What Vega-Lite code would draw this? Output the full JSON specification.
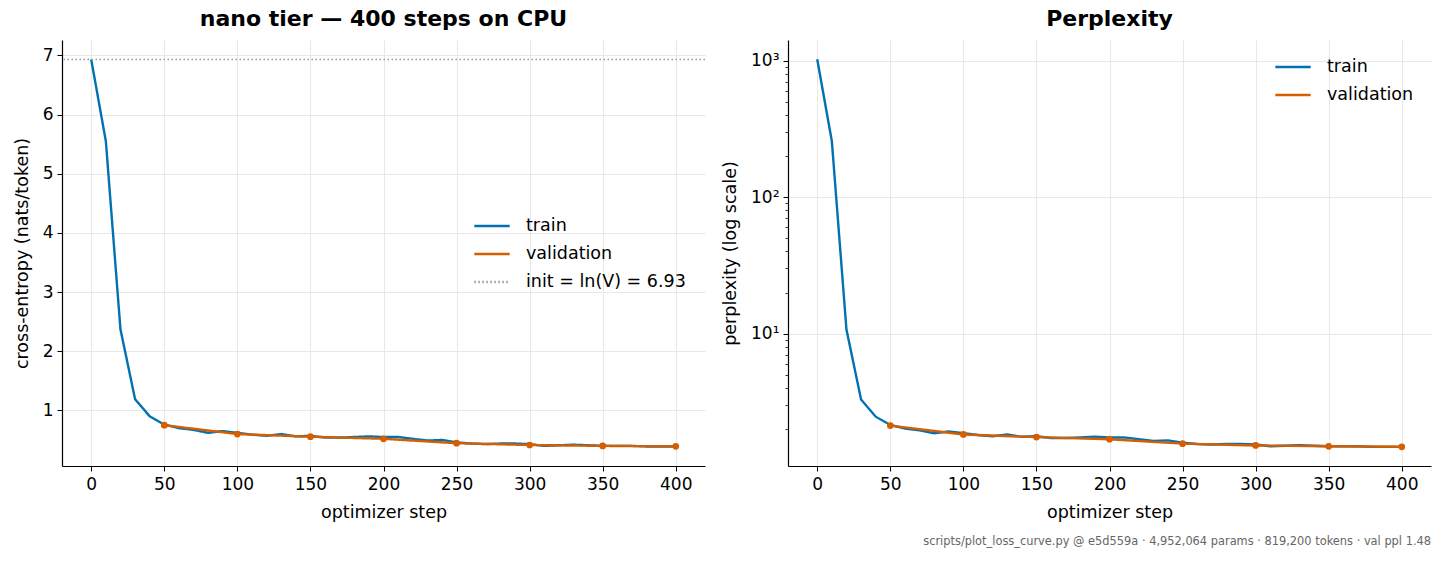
{
  "$schema": "https://vega.github.io/schema/vega-lite/v6.json",
  "padding": {"left": 13, "top": 8, "right": 13, "bottom": 5},
  "background": "white",
  "title": {
    "text": "scripts/plot_loss_curve.py @ e5d559a · 4,952,064 params · 819,200 tokens · val ppl 1.48",
    "orient": "bottom",
    "anchor": "end",
    "fontSize": 11.4,
    "fontWeight": "normal",
    "color": "#666666",
    "font": "DejaVu Sans",
    "offset": 15
  },
  "datasets": {
    "curves": [
      {"step": 0, "series": "train", "ce": 6.93, "ppl": 1024},
      {"step": 10, "series": "train", "ce": 5.55, "ppl": 257.2},
      {"step": 20, "series": "train", "ce": 2.37, "ppl": 10.70},
      {"step": 30, "series": "train", "ce": 1.19, "ppl": 3.287},
      {"step": 40, "series": "train", "ce": 0.90, "ppl": 2.460},
      {"step": 50, "series": "train", "ce": 0.76, "ppl": 2.138},
      {"step": 60, "series": "train", "ce": 0.70, "ppl": 2.014},
      {"step": 70, "series": "train", "ce": 0.67, "ppl": 1.954},
      {"step": 80, "series": "train", "ce": 0.62, "ppl": 1.859},
      {"step": 90, "series": "train", "ce": 0.65, "ppl": 1.916},
      {"step": 100, "series": "train", "ce": 0.62, "ppl": 1.859},
      {"step": 110, "series": "train", "ce": 0.59, "ppl": 1.804},
      {"step": 120, "series": "train", "ce": 0.57, "ppl": 1.768},
      {"step": 130, "series": "train", "ce": 0.60, "ppl": 1.822},
      {"step": 140, "series": "train", "ce": 0.56, "ppl": 1.751},
      {"step": 150, "series": "train", "ce": 0.57, "ppl": 1.768},
      {"step": 160, "series": "train", "ce": 0.54, "ppl": 1.716},
      {"step": 170, "series": "train", "ce": 0.54, "ppl": 1.716},
      {"step": 180, "series": "train", "ce": 0.55, "ppl": 1.733},
      {"step": 190, "series": "train", "ce": 0.56, "ppl": 1.751},
      {"step": 200, "series": "train", "ce": 0.55, "ppl": 1.733},
      {"step": 210, "series": "train", "ce": 0.55, "ppl": 1.733},
      {"step": 220, "series": "train", "ce": 0.52, "ppl": 1.682},
      {"step": 230, "series": "train", "ce": 0.49, "ppl": 1.632},
      {"step": 240, "series": "train", "ce": 0.50, "ppl": 1.649},
      {"step": 250, "series": "train", "ce": 0.46, "ppl": 1.584},
      {"step": 260, "series": "train", "ce": 0.44, "ppl": 1.553},
      {"step": 270, "series": "train", "ce": 0.43, "ppl": 1.537},
      {"step": 280, "series": "train", "ce": 0.44, "ppl": 1.553},
      {"step": 290, "series": "train", "ce": 0.44, "ppl": 1.553},
      {"step": 300, "series": "train", "ce": 0.43, "ppl": 1.537},
      {"step": 310, "series": "train", "ce": 0.40, "ppl": 1.492},
      {"step": 320, "series": "train", "ce": 0.41, "ppl": 1.507},
      {"step": 330, "series": "train", "ce": 0.42, "ppl": 1.522},
      {"step": 340, "series": "train", "ce": 0.41, "ppl": 1.507},
      {"step": 350, "series": "train", "ce": 0.40, "ppl": 1.492},
      {"step": 360, "series": "train", "ce": 0.40, "ppl": 1.492},
      {"step": 370, "series": "train", "ce": 0.40, "ppl": 1.492},
      {"step": 380, "series": "train", "ce": 0.39, "ppl": 1.477},
      {"step": 390, "series": "train", "ce": 0.39, "ppl": 1.477},
      {"step": 400, "series": "train", "ce": 0.39, "ppl": 1.477},
      {"step": 50, "series": "validation", "ce": 0.75, "ppl": 2.117},
      {"step": 100, "series": "validation", "ce": 0.60, "ppl": 1.822},
      {"step": 150, "series": "validation", "ce": 0.555, "ppl": 1.742},
      {"step": 200, "series": "validation", "ce": 0.52, "ppl": 1.682},
      {"step": 250, "series": "validation", "ce": 0.445, "ppl": 1.560},
      {"step": 300, "series": "validation", "ce": 0.415, "ppl": 1.514},
      {"step": 350, "series": "validation", "ce": 0.40, "ppl": 1.492},
      {"step": 400, "series": "validation", "ce": 0.392, "ppl": 1.480}
    ],
    "init": [
      {"series": "init = ln(V) = 6.93", "ce": 6.93}
    ]
  },
  "hconcat": [
    {
      "width": 643,
      "height": 426,
      "title": {"text": "nano tier — 400 steps on CPU", "fontSize": 22, "fontWeight": "bold", "font": "DejaVu Sans", "color": "black", "offset": 9},
      "layer": [
        {
          "data": {"name": "curves"},
          "mark": {"type": "line", "strokeWidth": 2.4},
          "encoding": {
            "x": {
              "field": "step", "type": "quantitative",
              "scale": {"domain": [-20, 420], "nice": false, "zero": false},
              "axis": {"values": [0, 50, 100, 150, 200, 250, 300, 350, 400], "title": "optimizer step"}
            },
            "y": {
              "field": "ce", "type": "quantitative",
              "scale": {"domain": [0.06, 7.26], "nice": false, "zero": false},
              "axis": {"values": [1, 2, 3, 4, 5, 6, 7], "format": "d", "title": "cross-entropy (nats/token)"}
            },
            "color": {
              "field": "series", "type": "nominal",
              "scale": {"domain": ["train", "validation", "init = ln(V) = 6.93"], "range": ["#0072B2", "#D55E00", "#999999"]},
              "legend": {"orient": "none", "legendX": 411, "legendY": 167, "title": null, "symbolType": "stroke", "symbolSize": 1250, "symbolStrokeWidth": 2.4, "labelFontSize": 17.5, "labelOffset": 15, "rowPadding": -6}
            },
            "strokeDash": {
              "field": "series", "type": "nominal",
              "scale": {"domain": ["train", "validation", "init = ln(V) = 6.93"], "range": [[1, 0], [1, 0], [1.5, 2.5]]},
              "legend": {"orient": "none", "legendX": 411, "legendY": 167, "title": null, "symbolType": "stroke", "symbolSize": 1250, "symbolStrokeWidth": 2.4, "labelFontSize": 17.5, "labelOffset": 15, "rowPadding": -6}
            }
          }
        },
        {
          "data": {"name": "curves"},
          "transform": [{"filter": "datum.series == 'validation'"}],
          "mark": {"type": "circle", "size": 45, "opacity": 1, "color": "#D55E00"},
          "encoding": {
            "x": {"field": "step", "type": "quantitative"},
            "y": {"field": "ce", "type": "quantitative"}
          }
        },
        {
          "data": {"name": "init"},
          "mark": {"type": "rule", "strokeWidth": 1.5},
          "encoding": {
            "y": {"field": "ce", "type": "quantitative"},
            "color": {"field": "series", "type": "nominal"},
            "strokeDash": {"field": "series", "type": "nominal"}
          }
        }
      ]
    },
    {
      "width": 643,
      "height": 426,
      "title": {"text": "Perplexity", "fontSize": 22, "fontWeight": "bold", "font": "DejaVu Sans", "color": "black", "offset": 9},
      "layer": [
        {
          "data": {"name": "curves"},
          "mark": {"type": "line", "strokeWidth": 2.4},
          "encoding": {
            "x": {
              "field": "step", "type": "quantitative",
              "scale": {"domain": [-20, 420], "nice": false, "zero": false},
              "axis": {"values": [0, 50, 100, 150, 200, 250, 300, 350, 400], "title": "optimizer step"}
            },
            "y": {
              "field": "ppl", "type": "quantitative",
              "scale": {"type": "log", "domain": [1.07, 1419], "nice": false},
              "axis": {
                "values": [2, 3, 4, 5, 6, 7, 8, 9, 10, 20, 30, 40, 50, 60, 70, 80, 90, 100, 200, 300, 400, 500, 600, 700, 800, 900, 1000],
                "labelExpr": "datum.value == 10 ? '10¹' : datum.value == 100 ? '10²' : datum.value == 1000 ? '10³' : ''",
                "tickSize": {"condition": {"test": "indexof([10, 100, 1000], datum.value) >= 0", "value": 5}, "value": 3},
                "tickWidth": {"condition": {"test": "indexof([10, 100, 1000], datum.value) >= 0", "value": 1}, "value": 0.8},
                "gridOpacity": {"condition": {"test": "indexof([10, 100, 1000], datum.value) >= 0", "value": 1}, "value": 0},
                "title": "perplexity (log scale)"
              }
            },
            "color": {
              "field": "series", "type": "nominal",
              "scale": {"domain": ["train", "validation"], "range": ["#0072B2", "#D55E00"]},
              "legend": {"orient": "none", "legendX": 486, "legendY": 8, "title": null, "symbolType": "stroke", "symbolSize": 1250, "symbolStrokeWidth": 2.4, "labelFontSize": 17.5, "labelOffset": 15, "rowPadding": -8}
            }
          }
        },
        {
          "data": {"name": "curves"},
          "transform": [{"filter": "datum.series == 'validation'"}],
          "mark": {"type": "circle", "size": 45, "opacity": 1, "color": "#D55E00"},
          "encoding": {
            "x": {"field": "step", "type": "quantitative"},
            "y": {"field": "ppl", "type": "quantitative"}
          }
        }
      ]
    }
  ],
  "spacing": 15,
  "resolve": {"scale": {"color": "independent", "strokeDash": "independent", "x": "independent", "y": "independent"}},
  "config": {
    "font": "DejaVu Sans",
    "view": {"stroke": null},
    "axis": {
      "labelFont": "DejaVu Sans",
      "titleFont": "DejaVu Sans",
      "labelFontSize": 17,
      "titleFontSize": 17.5,
      "titleFontWeight": "normal",
      "labelColor": "black",
      "titleColor": "black",
      "domainColor": "black",
      "domainWidth": 1.2,
      "tickColor": "black",
      "tickSize": 5,
      "labelPadding": 4,
      "titlePadding": 8,
      "gridColor": "#e8e8e8",
      "gridWidth": 1,
      "labelFlush": false,
      "labelOverlap": false
    },
    "axisX": {"labelPadding": 5, "titlePadding": 11},
    "axisY": {"titlePadding": 11},
    "legend": {"labelFont": "DejaVu Sans", "labelColor": "black"}
  }
}
